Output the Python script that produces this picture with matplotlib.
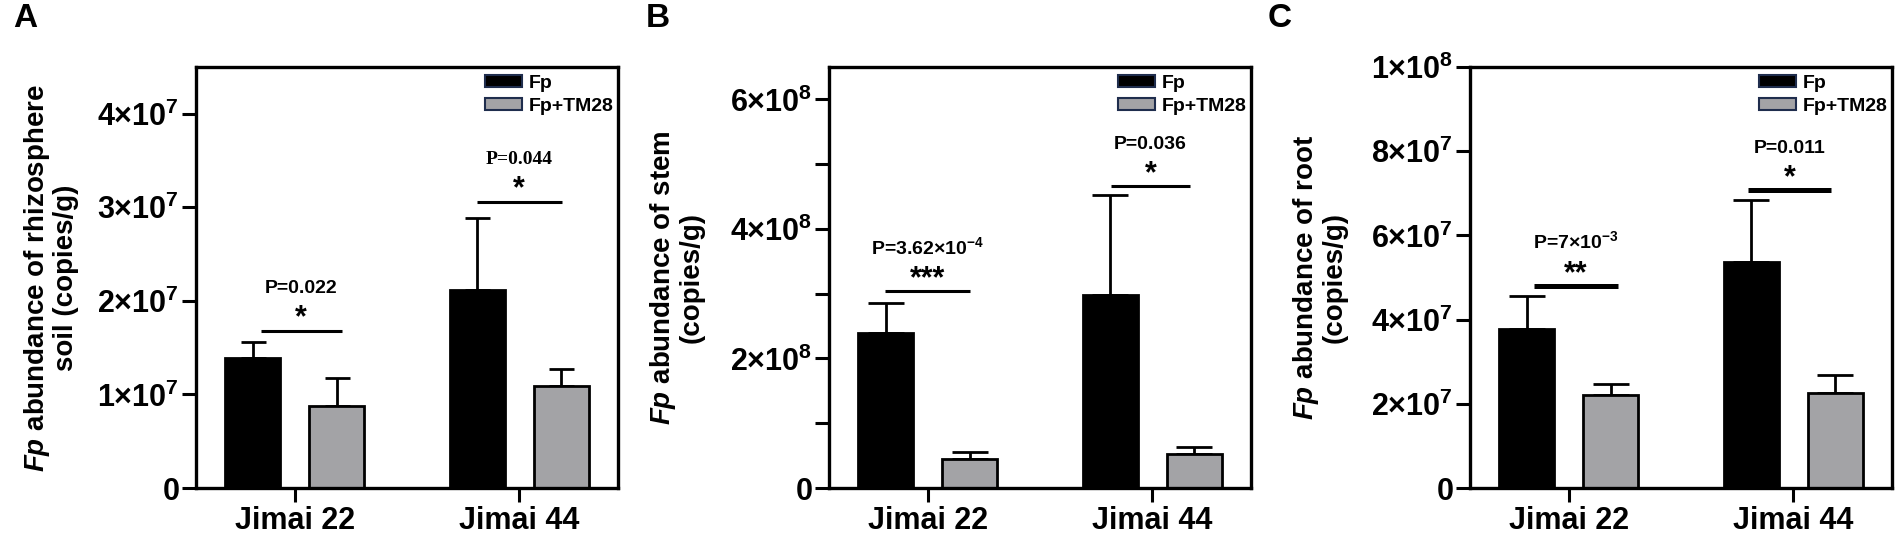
import matplotlib
matplotlib.use("Agg")
import matplotlib.pyplot as plt
from matplotlib.patches import Patch
from matplotlib.ticker import FixedLocator

plt.rcParams['font.family'] = ['Liberation Sans', 'DejaVu Sans']
plt.rcParams['font.weight'] = 'bold'
plt.rcParams['mathtext.fontset'] = 'custom'
plt.rcParams['mathtext.rm'] = 'Liberation Sans:bold'
plt.rcParams['mathtext.bf'] = 'Liberation Sans:bold'
plt.rcParams['mathtext.it'] = 'Liberation Sans:italic:bold'
plt.rcParams['mathtext.default'] = 'rm'

# ---------------- data ----------------
categories = ['Jimai 22', 'Jimai 44']
series_names = ['Fp', 'Fp+TM28']

soil_fp = [1.39e7, 2.12e7]
soil_fp_err = [0.17e7, 0.77e7]
soil_tm = [0.88e7, 1.09e7]
soil_tm_err = [0.30e7, 0.18e7]

stem_fp = [2.39e8, 2.98e8]
stem_fp_err = [0.46e8, 1.55e8]
stem_tm = [0.45e8, 0.52e8]
stem_tm_err = [0.10e8, 0.12e8]

root_fp = [3.78e7, 5.38e7]
root_fp_err = [0.77e7, 1.46e7]
root_tm = [2.21e7, 2.26e7]
root_tm_err = [0.26e7, 0.43e7]

soil_sig_y = [1.68e7, 3.06e7]
stem_sig_y = [3.04e8, 4.66e8]
root_sig_y = [4.80e7, 7.07e7]

soil_p = ['P=0.022', 'P=0.044']
stem_p = ['P=3.62×10$^{-4}$', 'P=0.036']
root_p = ['P=7×10$^{-3}$', 'P=0.011']

soil_stars = ['*', '*']
stem_stars = ['***', '*']
root_stars = ['**', '*']

soil_yticks = [0, 1e7, 2e7, 3e7, 4e7]
soil_yticklabels = ['0', '1×10$^{7}$', '2×10$^{7}$', '3×10$^{7}$', '4×10$^{7}$']
stem_yticks = [0, 2e8, 4e8, 6e8]
stem_yminor = [1e8, 3e8, 5e8]
stem_yticklabels = ['0', '2×10$^{8}$', '4×10$^{8}$', '6×10$^{8}$']
root_yticks = [0, 2e7, 4e7, 6e7, 8e7, 1e8]
root_yticklabels = ['0', '2×10$^{7}$', '4×10$^{7}$', '6×10$^{7}$', '8×10$^{7}$', '1×10$^{8}$']

ylabels = ['$\\mathit{Fp}$ abundance of rhizosphere\nsoil (copies/g)',
           '$\\mathit{Fp}$ abundance of stem\n(copies/g)',
           '$\\mathit{Fp}$ abundance of root\n(copies/g)']
panel_letters = ['A', 'B', 'C']

# ---------------- layout / style ----------------
W, H = 1901, 541
fig = plt.figure(figsize=(W / 100, H / 100), dpi=100)
ax_lefts = [196, 829, 1470]
ax_w = 422
ax_top, ax_bot = 67, 488
letter_x = [13, 646, 1268]
label_x = [-0.277, -0.295, -0.29]

BLACK = '#000000'
GREY = '#a3a3a6'
off = 0.1875
bw = 0.245

panels = [
    dict(fp=soil_fp, fpe=soil_fp_err, tm=soil_tm, tme=soil_tm_err, ylim=4.5e7,
         yt=soil_yticks, ytl=soil_yticklabels, minor=None, sig=soil_sig_y,
         p=soil_p, stars=soil_stars, cap=9,
         sigx=[(-0.152, 0.21), (-0.19, 0.19)], siglw=2.2,
         pfont=[None, 'Liberation Serif']),
    dict(fp=stem_fp, fpe=stem_fp_err, tm=stem_tm, tme=stem_tm_err, ylim=6.5e8,
         yt=stem_yticks, ytl=stem_yticklabels, minor=stem_yminor, sig=stem_sig_y,
         p=stem_p, stars=stem_stars, cap=13,
         sigx=[(-0.19, 0.19), (-0.185, 0.17)], siglw=2.2,
         pfont=[None, None]),
    dict(fp=root_fp, fpe=root_fp_err, tm=root_tm, tme=root_tm_err, ylim=1e8,
         yt=root_yticks, ytl=root_yticklabels, minor=None, sig=root_sig_y,
         p=root_p, stars=root_stars, cap=13,
         sigx=[(-0.157, 0.22), (-0.2, 0.17)], siglw=3.6,
         pfont=[None, None]),
]

x = list(range(len(categories)))
for i, pdx in enumerate(panels):
    ax = fig.add_axes([ax_lefts[i] / W, 1 - ax_bot / H, ax_w / W, (ax_bot - ax_top) / H])
    xf = [v - off for v in x]
    xt = [v + off for v in x]
    ax.bar(xf, pdx['fp'], width=bw, color=BLACK, edgecolor='black', linewidth=2, zorder=2)
    ax.bar(xt, pdx['tm'], width=bw, color=GREY, edgecolor='black', linewidth=2, zorder=2)
    ax.errorbar(xf, pdx['fp'], yerr=[[0] * 2, pdx['fpe']], fmt='none', ecolor='black',
                elinewidth=2, capsize=pdx['cap'], capthick=2, zorder=1)
    ax.errorbar(xt, pdx['tm'], yerr=[[0] * 2, pdx['tme']], fmt='none', ecolor='black',
                elinewidth=2, capsize=pdx['cap'], capthick=2, zorder=1)

    ax.set_xlim(-0.44, 1.44)
    ax.set_ylim(0, pdx['ylim'])
    ax.set_xticks(x)
    ax.set_xticklabels(categories, fontsize=22, fontweight='bold')
    ax.set_yticks(pdx['yt'])
    ax.set_yticklabels(pdx['ytl'], fontsize=22, fontweight='bold')
    if pdx['minor']:
        ax.yaxis.set_minor_locator(FixedLocator(pdx['minor']))
    ax.tick_params(axis='both', which='both', direction='out', length=10, width=2.2)
    ax.tick_params(axis='y', pad=2)
    ax.tick_params(axis='x', pad=3)
    for s in ax.spines.values():
        s.set_linewidth(2.4)

    ax.set_ylabel(ylabels[i], fontsize=20, fontweight='bold', multialignment='center',
                  linespacing=1.05)
    ax.yaxis.set_label_coords(label_x[i], 0.5)

    for j in range(2):
        x0, x1 = pdx['sigx'][j]
        ax.plot([j + x0, j + x1], [pdx['sig'][j]] * 2, color='black', lw=pdx['siglw'],
                solid_capstyle='butt')
        xc = j + (x0 + x1) / 2
        ax.annotate(pdx['stars'][j], (xc, pdx['sig'][j]), xytext=(0, 3),
                    textcoords='offset points', ha='center', va='baseline',
                    fontsize=22, fontweight='bold')
        kw = {}
        if pdx['pfont'][j]:
            kw['fontfamily'] = pdx['pfont'][j]
        ax.annotate(pdx['p'][j], (xc, pdx['sig'][j]), xytext=(0, 27),
                    textcoords='offset points', ha='center', va='baseline',
                    fontsize=14, fontweight='bold', **kw)

    handles = [Patch(facecolor=BLACK, edgecolor='#1f2d4d', linewidth=1.5),
               Patch(facecolor=GREY, edgecolor='#1f2d4d', linewidth=1.5)]
    ax.legend(handles, series_names, loc='upper right', bbox_to_anchor=(1.0, 0.99),
              frameon=False, handlelength=1.9, handleheight=0.6,
              handletextpad=0.35, labelspacing=0.3, borderpad=0.0, borderaxespad=0.2,
              prop={'weight': 'bold', 'size': 14})

    fig.text(letter_x[i] / W, 1 - 3 / H, panel_letters[i], fontsize=24, fontweight='bold',
             ha='left', va='top')

fig.savefig('out.png', dpi=100)
